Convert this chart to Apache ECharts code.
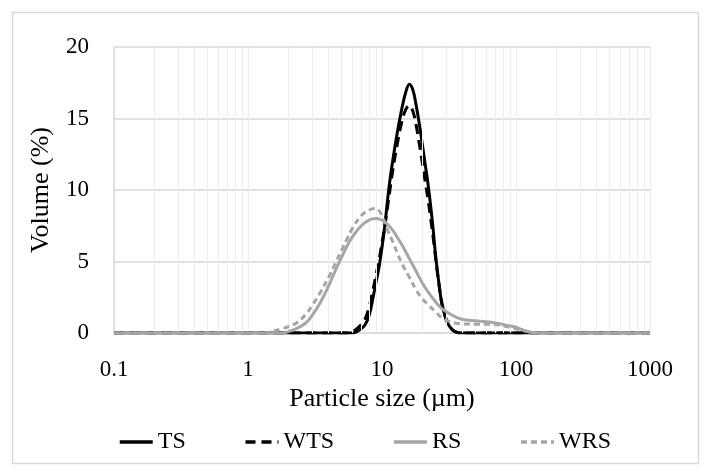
<!DOCTYPE html>
<html>
<head>
<meta charset="utf-8">
<script src="https://cdn.jsdelivr.net/npm/echarts@6/dist/echarts.min.js"></script>
<style>
html,body{margin:0;padding:0;background:#fff;}
#chart{width:705px;height:472px;}
</style>
</head>
<body>
<div id="chart"></div>
<script>
// Particle size (µm) and volume (%) per series
var tsSize  = [0.1, 6.0, 6.5, 7.0, 7.5, 8.0, 8.5, 9.0, 9.5, 10, 10.5, 11, 11.5, 12, 13, 14, 15, 16, 17, 18, 19, 20, 21, 22, 23, 24, 25, 26, 27, 28, 30, 32, 35, 40, 1000];
var tsVol   = [0, 0, 0.1, 0.3, 0.6, 1.2, 2.3, 3.5, 4.6, 6.0, 7.5, 9.3, 10.8, 12.0, 14.0, 15.6, 16.8, 17.4, 17.0, 15.9, 14.6, 13.2, 11.8, 10.5, 9.0, 7.4, 5.6, 4.2, 3.0, 2.0, 1.0, 0.45, 0.1, 0, 0];

var wtsSize = [0.1, 5.5, 6.0, 6.5, 7.0, 7.5, 8.0, 8.5, 9.0, 9.5, 10, 10.5, 11, 11.5, 12, 13, 14, 15, 16, 17, 18, 19, 20, 21, 22, 23, 24, 25, 26, 27, 28, 30, 32, 35, 40, 1000];
var wtsVol  = [0, 0, 0.1, 0.3, 0.6, 1.0, 1.8, 2.9, 4.0, 5.1, 6.3, 7.5, 8.8, 10.1, 11.3, 13.2, 14.7, 15.6, 15.9, 15.5, 14.5, 13.2, 11.9, 10.6, 9.4, 8.1, 6.8, 5.4, 4.1, 3.0, 2.1, 1.0, 0.45, 0.1, 0, 0];

var rsSize  = [0.1, 1.8, 2.0, 2.3, 2.7, 3.0, 3.5, 4.0, 4.5, 5.0, 5.5, 6.0, 7.0, 8.0, 9.0, 10, 11, 12, 13, 14, 15, 16, 18, 20, 22, 25, 28, 32, 36, 40, 50, 60, 70, 80, 90, 100, 110, 120, 135, 150, 1000];
var rsVol   = [0, 0, 0.1, 0.3, 0.7, 1.2, 2.2, 3.3, 4.4, 5.3, 6.1, 6.7, 7.5, 7.9, 8.0, 7.9, 7.6, 7.2, 6.7, 6.2, 5.7, 5.2, 4.3, 3.5, 2.9, 2.2, 1.7, 1.35, 1.1, 0.95, 0.85, 0.78, 0.7, 0.6, 0.5, 0.4, 0.25, 0.12, 0.02, 0, 0];

var wrsSize = [0.1, 1.3, 1.5, 1.8, 2.0, 2.3, 2.7, 3.0, 3.5, 4.0, 4.5, 5.0, 5.5, 6.0, 7.0, 8.0, 9.0, 10, 11, 12, 13, 14, 16, 18, 20, 22, 25, 28, 32, 36, 40, 50, 60, 70, 80, 90, 100, 110, 120, 135, 150, 1000];
var wrsVol  = [0, 0, 0.1, 0.3, 0.45, 0.7, 1.3, 1.9, 2.9, 3.9, 4.9, 5.8, 6.6, 7.3, 8.2, 8.6, 8.7, 8.2, 7.2, 6.4, 5.6, 4.9, 3.9, 3.0, 2.4, 2.0, 1.5, 1.05, 0.8, 0.68, 0.63, 0.62, 0.62, 0.6, 0.5, 0.4, 0.3, 0.2, 0.12, 0.04, 0, 0];

var seriesNames = ['TS', 'WTS', 'RS', 'WRS'];
var xTickLabels = ['0.1', '1', '10', '100', '1000'];
var yTicks = [0, 5, 10, 15, 20];
// minor log grid positions (2..9 within each decade)
var minorGrid = [0.2,0.3,0.4,0.5,0.6,0.7,0.8,0.9, 2,3,4,5,6,7,8,9, 20,30,40,50,60,70,80,90, 200,300,400,500,600,700,800,900];

function pairs(xs, ys){ return xs.map(function(x,i){ return [x, ys[i]]; }); }

var FONT = '"Liberation Serif", "DejaVu Serif", serif';
var chart = echarts.init(document.getElementById('chart'), null, {renderer:'canvas'});

var lineBase = {type:'line', showSymbol:false, symbol:'none', smooth:0.4, animation:false, z:3};

chart.setOption({
  backgroundColor:'#ffffff',
  animation:false,
  graphic:[{
    type:'rect', left:10, top:10, z:-1,
    shape:{x:0, y:0, width:686, height:451},
    style:{fill:'none', stroke:'#d9d9d9', lineWidth:1.5}
  }],
  grid:{left:114, right:55, top:47, bottom:139, containLabel:false},
  legend:{
    data:seriesNames, left:113, top:425, itemWidth:33, itemHeight:14, itemGap:58,
    itemStyle:{opacity:0},
    lineStyle:{width:3.5},
    textStyle:{fontFamily:FONT, fontSize:24, color:'#000'}
  },
  xAxis:{
    type:'log', logBase:10, min:0.1, max:1000,
    name:'Particle size (µm)', nameLocation:'middle', nameGap:53,
    nameTextStyle:{fontFamily:FONT, fontSize:26, color:'#000'},
    axisLine:{show:true, lineStyle:{color:'#d9d9d9', width:1.5}},
    axisTick:{show:false},
    axisLabel:{fontFamily:FONT, fontSize:23, color:'#000', margin:25,
      formatter:function(v){ var s = String(+v.toPrecision(6)); return xTickLabels.indexOf(s) >= 0 ? s : ''; }},
    splitLine:{show:true, lineStyle:{color:'#ededed', width:1}}
  },
  yAxis:{
    type:'value', min:0, max:20, interval:5,
    name:'Volume (%)', nameLocation:'middle', nameGap:60,
    nameTextStyle:{fontFamily:FONT, fontSize:26, color:'#000'},
    axisLine:{show:true, lineStyle:{color:'#d9d9d9', width:1.5}},
    axisTick:{show:false},
    axisLabel:{fontFamily:FONT, fontSize:23, color:'#000', margin:25,
      formatter:function(v){ return yTicks.indexOf(v) >= 0 ? String(v) : ''; }},
    splitLine:{show:true, lineStyle:{color:'#d9d9d9', width:1.5}}
  },
  series:[
    {type:'line', name:'_grid', data:[[0.1,0]], showSymbol:false, symbol:'none', lineStyle:{opacity:0}, z:1, silent:true, animation:false,
     markLine:{silent:true, symbol:['none','none'], label:{show:false}, animation:false,
       lineStyle:{color:'#ededed', width:1, type:'solid'},
       data:minorGrid.map(function(v){ return {xAxis:v}; })}},
    Object.assign({}, lineBase, {name:'TS', data:pairs(tsSize, tsVol), z:3,
      lineStyle:{color:'#000000', width:3, type:'solid'}, itemStyle:{color:'#000000'}}),
    Object.assign({}, lineBase, {name:'WTS', data:pairs(wtsSize, wtsVol), z:4,
      lineStyle:{color:'#000000', width:3, type:[10,6]}, itemStyle:{color:'#000000'}}),
    Object.assign({}, lineBase, {name:'RS', data:pairs(rsSize, rsVol), z:5,
      lineStyle:{color:'#a6a6a6', width:3, type:'solid'}, itemStyle:{color:'#a6a6a6'}}),
    Object.assign({}, lineBase, {name:'WRS', data:pairs(wrsSize, wrsVol), z:6,
      lineStyle:{color:'#a6a6a6', width:3, type:[6,4]}, itemStyle:{color:'#a6a6a6'}})
  ]
});
</script>
</body>
</html>
